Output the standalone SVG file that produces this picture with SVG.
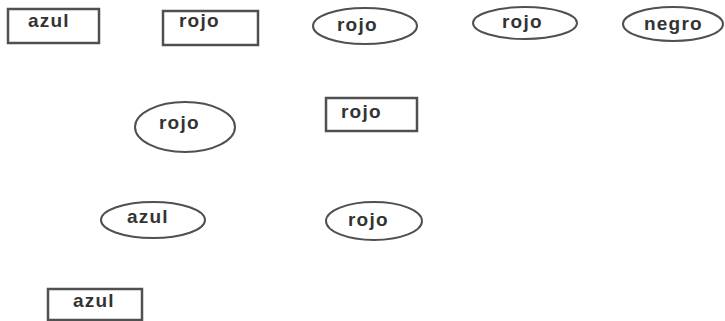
<svg xmlns="http://www.w3.org/2000/svg" width="725" height="321" viewBox="0 0 725 321">
  <style>
    .shape { fill: #ffffff; stroke: #505050; stroke-width: 2; }
    .box { stroke-width: 2.5; }
    .label { font-family: "Liberation Sans", Arial, sans-serif; font-weight: bold; font-size: 19px; letter-spacing: 1.2px; fill: #333333; }
  </style>
  <rect width="725" height="321" fill="#ffffff"/>
  <g id="connectors"></g>
  <g id="n1"><rect class="shape box" x="8" y="9" width="91" height="34"/><text class="label" x="28" y="27">azul</text></g>
  <g id="n2"><rect class="shape box" x="163" y="11" width="95" height="34"/><text class="label" x="179" y="27">rojo</text></g>
  <g id="n3"><ellipse class="shape" cx="365" cy="26" rx="52" ry="18"/><text class="label" x="337" y="31">rojo</text></g>
  <g id="n4"><ellipse class="shape" cx="525" cy="23" rx="52" ry="16"/><text class="label" x="502" y="28">rojo</text></g>
  <g id="n5"><ellipse class="shape" cx="673" cy="24" rx="50" ry="17"/><text class="label" x="644" y="30">negro</text></g>
  <g id="n6"><ellipse class="shape" cx="185" cy="127" rx="50" ry="25"/><text class="label" x="159" y="129">rojo</text></g>
  <g id="n7"><rect class="shape box" x="326" y="98" width="91" height="33"/><text class="label" x="341" y="118">rojo</text></g>
  <g id="n8"><ellipse class="shape" cx="153" cy="220" rx="52" ry="18"/><text class="label" x="127" y="223">azul</text></g>
  <g id="n9"><ellipse class="shape" cx="374" cy="221" rx="48" ry="19"/><text class="label" x="348" y="226">rojo</text></g>
  <g id="n10"><rect class="shape box" x="48" y="289" width="94" height="31"/><text class="label" x="73" y="307">azul</text></g>
</svg>
